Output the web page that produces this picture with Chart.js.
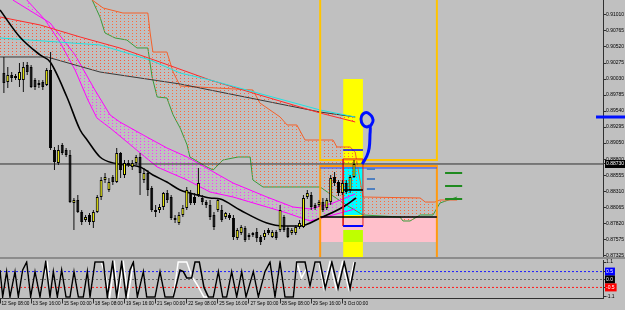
<!DOCTYPE html>
<html>
<head>
<meta charset="utf-8">
<script src="https://cdn.jsdelivr.net/npm/chart.js@4.4.0/dist/chart.umd.min.js"></script>
<style>
  html, body { margin: 0; padding: 0; background: #c0c0c0; }
  #wrap { position: relative; width: 625px; height: 310px; overflow: hidden; }
  #main { position: absolute; left: 0; top: 0; }
  #sep { position: absolute; left: 0; top: 257px; width: 625px; height: 2px; background: #8c8c8c; }
  #sub { position: absolute; left: 0; top: 258px; }
</style>
</head>
<body>
<div id="wrap">
  <canvas id="main" width="625" height="257"></canvas>
  <div id="sep"></div>
  <canvas id="sub" width="625" height="52"></canvas>
</div>
<script>
// H4 bars: x = bar number, y = price
const timeLabels = ['12 Sep 08:00', '13 Sep 16:00', '15 Sep 00:00', '18 Sep 08:00', '19 Sep 16:00', '21 Sep 00:00',
  '22 Sep 08:00', '25 Sep 16:00', '27 Sep 00:00', '28 Sep 08:00', '29 Sep 16:00', '3 Oct 00:00'];
const timeTickBars = [0, 8, 16, 24, 32, 40, 48, 56, 64, 72, 80, 88];

const priceTicks = [0.91255, 0.91010, 0.90765, 0.90520, 0.90275, 0.90030, 0.89785, 0.89540, 0.89295,
  0.89050, 0.88800, 0.88555, 0.88310, 0.88065, 0.87820, 0.87575, 0.87325];
const lastPrice = 0.88730;

// candles, bar 1 .. 91
const firstBar = 1;
const openP = [0.90122, 0.89984, 0.90092, 0.90046, 0.90015, 0.90015, 0.90245, 0.90214, 0.90015, 0.89969,
  0.89984, 0.89939, 0.90168, 0.88944, 0.88745, 0.89021, 0.88944, 0.88868, 0.88133, 0.88179,
  0.87995, 0.87873, 0.87950, 0.87842, 0.87995, 0.88225, 0.88485, 0.88332, 0.88531, 0.88454,
  0.88898, 0.88562, 0.88745, 0.88684, 0.88745, 0.88837, 0.88485, 0.88592, 0.88363, 0.87995,
  0.88026, 0.88072, 0.88286, 0.88225, 0.87904, 0.87827, 0.87950, 0.88057, 0.88286, 0.88225,
  0.88256, 0.88210, 0.88148, 0.88103, 0.87950, 0.88026, 0.88026, 0.87919, 0.87950, 0.87904,
  0.87598, 0.87674, 0.87751, 0.87613, 0.87674, 0.87689, 0.87613, 0.87613, 0.87720, 0.87613,
  0.87689, 0.87720, 0.87919, 0.87751, 0.87674, 0.87674, 0.87766, 0.87766, 0.88225, 0.88256,
  0.88103, 0.88103, 0.88148, 0.88057, 0.88148, 0.88531, 0.88454, 0.88286, 0.88439, 0.88332, 0.88531];
const highP = [0.90367, 0.90214, 0.90137, 0.90107, 0.90275, 0.90290, 0.90290, 0.90245, 0.90046, 0.90015,
  0.90015, 0.90199, 0.90443, 0.88990, 0.89021, 0.89051, 0.88975, 0.88944, 0.88210, 0.88256,
  0.88026, 0.87950, 0.87980, 0.88026, 0.88256, 0.88531, 0.88592, 0.88516, 0.88562, 0.88975,
  0.88913, 0.88791, 0.88791, 0.88791, 0.88868, 0.88898, 0.88669, 0.88638, 0.88393, 0.88103,
  0.88118, 0.88301, 0.88332, 0.88256, 0.87950, 0.87995, 0.88103, 0.88378, 0.88332, 0.88286,
  0.88669, 0.88256, 0.88179, 0.88179, 0.87995, 0.88210, 0.88103, 0.87995, 0.87980, 0.87950,
  0.87751, 0.87797, 0.87781, 0.87674, 0.87689, 0.87751, 0.87644, 0.87720, 0.87751, 0.87720,
  0.87720, 0.88103, 0.87950, 0.87781, 0.87751, 0.87797, 0.87873, 0.88256, 0.88332, 0.88301,
  0.88133, 0.88179, 0.88210, 0.88210, 0.88562, 0.88607, 0.88485, 0.88485, 0.88485, 0.88562, 0.88791];
const lowP = [0.89816, 0.89893, 0.89984, 0.90015, 0.89908, 0.89831, 0.90092, 0.89893, 0.89862, 0.89893,
  0.89862, 0.89923, 0.88944, 0.88638, 0.88715, 0.88868, 0.88837, 0.88133, 0.87720, 0.87980,
  0.87797, 0.87842, 0.87797, 0.87751, 0.87980, 0.88179, 0.88439, 0.88301, 0.88409, 0.88439,
  0.88516, 0.88516, 0.88684, 0.88638, 0.88715, 0.88256, 0.88439, 0.88240, 0.87995, 0.87919,
  0.87980, 0.88026, 0.88133, 0.87873, 0.87827, 0.87797, 0.87919, 0.88026, 0.88103, 0.88103,
  0.88225, 0.88103, 0.88057, 0.87873, 0.87720, 0.87995, 0.87842, 0.87888, 0.87873, 0.87567,
  0.87567, 0.87644, 0.87536, 0.87567, 0.87613, 0.87536, 0.87490, 0.87567, 0.87644, 0.87598,
  0.87567, 0.87689, 0.87689, 0.87598, 0.87644, 0.87644, 0.87735, 0.87751, 0.88194, 0.88026,
  0.88026, 0.88072, 0.87995, 0.88026, 0.88103, 0.88393, 0.88240, 0.88256, 0.88271, 0.88286, 0.88516];
const closeP = [0.89969, 0.90092, 0.90046, 0.90076, 0.90137, 0.90214, 0.90137, 0.89908, 0.89908, 0.89939,
  0.89908, 0.90168, 0.88975, 0.88760, 0.88944, 0.88898, 0.88868, 0.88148, 0.88179, 0.87995,
  0.87842, 0.87919, 0.87842, 0.87995, 0.88225, 0.88485, 0.88531, 0.88454, 0.88454, 0.88898,
  0.88638, 0.88745, 0.88715, 0.88745, 0.88837, 0.88592, 0.88592, 0.88332, 0.88026, 0.88026,
  0.88072, 0.88286, 0.88179, 0.87904, 0.87873, 0.87950, 0.88057, 0.88332, 0.88133, 0.88133,
  0.88439, 0.88148, 0.88103, 0.87919, 0.87766, 0.88179, 0.87873, 0.87980, 0.87904, 0.87613,
  0.87720, 0.87766, 0.87567, 0.87644, 0.87644, 0.87598, 0.87536, 0.87674, 0.87674, 0.87689,
  0.87598, 0.88026, 0.87720, 0.87613, 0.87720, 0.87766, 0.87827, 0.88210, 0.88286, 0.88072,
  0.88057, 0.88148, 0.88026, 0.88179, 0.88516, 0.88439, 0.88286, 0.88439, 0.88301, 0.88531, 0.88730];

// ichimoku-like lines
const redX = [0, 10.3, 20.6, 30.8, 41.1, 54, 65, 82.3, 91.3];
const redY = [0.90979, 0.90857, 0.90673, 0.90505, 0.90290, 0.90015, 0.89816, 0.89510, 0.89373];
const cyanX = [0, 25.7, 38.6, 46.3, 54, 82.3, 91.3];
const cyanY = [0.90658, 0.90551, 0.90321, 0.90122, 0.90015, 0.89556, 0.89449];
const darkX = [0, 12.1, 25.7, 46.3, 54, 82.3, 91.3];
const darkY = [0.90367, 0.90367, 0.90137, 0.89954, 0.89862, 0.89525, 0.89449];

const spanTopX = [23.7, 26.5, 31.6, 38, 38.6, 39.3, 42.9, 44.5, 46.3, 65, 66.8, 72, 73.8, 76.3, 78.4, 85.6,
  86.6, 90, 91.3, 93.3, 108, 109.3, 111.8, 113.1, 117.5];
const spanTopY = [0.91239, 0.91117, 0.91040, 0.91040, 0.90734, 0.90443, 0.90443, 0.90137, 0.89923, 0.89862,
  0.89663, 0.89449, 0.89327, 0.89327, 0.89097, 0.89097, 0.88990, 0.88990, 0.88913, 0.88225, 0.88210,
  0.88148, 0.88148, 0.88179, 0.88179];
const spanLowX = [23.7, 25.7, 27, 29.6, 32.6, 35.2, 38, 39.1, 40.4, 42.9, 44.5, 46.3, 48.1, 48.8, 53.2, 54.8,
  57.3, 61.2, 64.3, 65, 67.6, 82.3, 88.2, 93.3, 102.8, 103.6, 105.4, 108, 111.3, 113.1, 117.5];
const spanLowY = [0.91239, 0.90979, 0.90734, 0.90658, 0.90627, 0.90505, 0.90505, 0.90061, 0.89755, 0.89740,
  0.89480, 0.89281, 0.89021, 0.88837, 0.88684, 0.88638, 0.88791, 0.88837, 0.88837, 0.88485, 0.88378,
  0.88378, 0.88133, 0.87950, 0.87919, 0.87858, 0.87858, 0.87950, 0.87950, 0.88133, 0.88225];

const magUpX = [3.3, 12.9, 19.3, 24.4, 28.3, 30.8, 36.8, 42.9, 48.1, 54, 59.9, 68.6, 75.3, 79.7, 85.6, 91.3];
const magUpY = [0.91239, 0.90887, 0.90398, 0.89862, 0.89480, 0.89373, 0.89174, 0.88975, 0.88837, 0.88638,
  0.88439, 0.88225, 0.88072, 0.88042, 0.88133, 0.88271];
const magLowX = [6.9, 11.6, 15.4, 19.3, 22.6, 24.9, 28.3, 34.2, 40.4, 48.1, 54, 59.9, 68.6, 73.8, 79.7, 85.6, 91.3];
const magLowY = [0.91239, 0.90933, 0.90596, 0.90168, 0.89709, 0.89434, 0.89281, 0.88990, 0.88684, 0.88485,
  0.88301, 0.88225, 0.88072, 0.87980, 0.87858, 0.87950, 0.88042];

const maX = [0, 5.1, 10.3, 12.9, 17.2, 20.6, 22.4, 25.7, 29, 36, 39.3, 42.9, 46.3, 48.8, 54, 56.6, 61.7,
  68.6, 72.8, 77.1, 82.3, 88.2, 91.5];
const maY = [0.91086, 0.90673, 0.90398, 0.90290, 0.89755, 0.89250, 0.89097, 0.88837, 0.88745, 0.88684,
  0.88562, 0.88454, 0.88332, 0.88286, 0.88210, 0.88194, 0.88026, 0.87827, 0.87781, 0.87781, 0.87904,
  0.88072, 0.88210];

// drawn objects
const boxLeft = 82.3, boxRight = 112.3, bandLeft = 88.2, bandRight = 93.3;
const goldBoxBottom = 0.88791, orangeBoxTop = 0.88699, blueUnderTop = 0.88669;
const bandTop = 0.90030, cyanTop = 0.88684, cyanBottom = 0.87950;
const pinkTop = 0.87904, pinkBottom = 0.87536, limeTop = 0.87720;
const redBoxTop = 0.88807, redBoxBottom = 0.87781;
const blueShort = 0.88944, blackShort = 0.88332, blackWide = 0.87919;
const steelDashY = [0.88653, 0.88500, 0.88347];
const greenDashY = [0.88592, 0.88393, 0.88194];
const penX = [95.1, 95.9, 94.6, 93.3, 92.8, 93.3, 94.3, 95.1, 95.1, 94.9, 94.3, 93.1];
const penY = [0.89296, 0.89403, 0.89510, 0.89495, 0.89418, 0.89327, 0.89296, 0.89311, 0.89174, 0.88975, 0.88852, 0.88730];
const axisMarkY = 0.89449;

// oscillator window
const oscTicks = [1.1, 0.5, 0, -0.5, -1.1];
const oscTickText = ['1.1', '0.5', '0.0', '-0.5', '-1.1'];
const oscTickBox = [null, '#0000ff', '#000000', '#ff0000', null];
const blackOscX = [0, 0.69, 1.71, 2.57, 3.86, 4.71, 5.83, 6.86, 7.88, 9.0, 10.28, 11.74, 12.85, 13.71, 14.74,
  15.85, 16.97, 18.0, 19.02, 20.14, 21.42, 22.45, 23.14, 24.42, 26.56, 27.59, 28.96, 29.99, 31.28, 32.39,
  33.42, 34.28, 35.3, 36.85, 37.7, 39.85, 41.13, 42.42, 44.56, 46.27, 47.13, 47.99, 49.27, 50.13, 51.24,
  52.44, 53.56, 54.84, 56.13, 57.24, 58.27, 59.55, 60.84, 62.13, 63.24, 65.12, 66.41, 68.12, 69.41, 70.69,
  71.98, 73.26, 75.41, 76.26, 78.41, 79.69, 80.98, 82.26, 83.6, 85.3, 86.9, 88.5, 90.0, 91.3];
const blackOscY = [0.6, -1.1, 0.5, -1.1, 0.5, -1.1, 0.6, 1.1, -1.1, 0.5, -1.1, 1.1, -1.1, 0.5, -1.1, 0.6, -1.1,
  -1.1, 0.5, -1.1, -1.1, 0.5, -1.1, 1.1, 1.1, -1.1, 1.1, -1.1, 1.1, -1.1, 0.6, 1.1, -1.1, 0.5, -1.1, -1.1,
  0.5, -1.1, -1.1, 0.6, 0.5, 0.1, 0.1, 1.1, 1.1, -0.5, -1.1, -1.1, 0.5, -1.1, -1.1, 0.5, -1.1, 0.5, -1.1,
  0.5, -1.1, 0.5, 1.1, -1.1, 1.1, -1.1, -1.1, 1.1, 1.1, -0.4, 1.1, 1.1, -0.55, 1.1, -0.55, 1.1, -0.55, 1.1];
const whiteOscX = [0, 0.69, 1.71, 2.57, 3.86, 4.71, 5.83, 6.86, 7.88, 9.0, 10.28, 11.3, 12.2, 12.85, 13.71,
  14.74, 15.85, 16.97, 18.0, 19.02, 20.14, 21.42, 22.45, 23.14, 24.42, 26.0, 27.0, 28.2, 29.4, 30.3, 31.7,
  32.9, 34.28, 35.3, 36.85, 37.7, 39.85, 41.13, 42.42, 44.56, 45.8, 48.0, 49.3, 50.6, 52.4, 53.56, 54.84,
  56.13, 57.24, 58.27, 59.55, 60.84, 62.13, 63.24, 65.12, 66.41, 68.12, 69.41, 70.69, 71.98, 73.26, 75.41,
  76.3, 77.5, 78.8, 79.69, 80.98, 82.0, 83.3, 84.8, 86.4, 88.0, 89.6, 91.0];
const whiteOscY = [0.6, -1.1, 0.5, -1.1, 0.5, -1.1, 0.6, 1.1, -1.1, 0.5, -1.1, 0.2, 1.0, -1.1, 0.5, -1.1, 0.6,
  -1.1, -1.1, 0.5, -1.1, -1.1, 0.5, -1.1, 1.1, 1.1, 0.4, -1.1, 1.1, -1.1, 1.1, -1.1, 1.1, -1.1, 0.5, -1.1,
  -1.1, 0.5, -1.1, -1.1, 1.1, 1.1, 0.2, -0.3, -1.1, -1.1, -1.1, 0.5, -1.1, -1.1, 0.5, -1.1, 0.5, -1.1, 0.5,
  -1.1, 0.5, 1.1, -1.1, 1.1, -1.1, -1.1, 1.1, 0.1, 0.7, -0.4, 1.1, 1.1, -0.55, 1.1, -0.55, 1.1, -0.55, 1.1];

const lastBar = 155;

Chart.defaults.font.family = "'Liberation Sans', Arial, sans-serif";
Chart.defaults.font.size = 5;
Chart.defaults.color = '#000';

// dotted hatch like the terminal draws inside the clouds
function hatch(color) {
  const c = document.createElement('canvas');
  c.width = 4; c.height = 3;
  const g = c.getContext('2d');
  g.fillStyle = color;
  g.fillRect(0, 0, 1, 1);
  return g.createPattern(c, 'repeat');
}

function line(xs, ys, color, width, order, extra) {
  return Object.assign({
    type: 'line',
    data: xs.map((x, i) => ({ x: x, y: ys[i] })),
    borderColor: color,
    borderWidth: width,
    pointRadius: 0,
    fill: false,
    tension: 0,
    order: order
  }, extra || {});
}

function rect(x1, x2, top, bottom, color, order) {
  return line([x1, x2], [top, top], 'rgba(0,0,0,0)', 0, order, { fill: { value: bottom }, backgroundColor: color });
}

const datasets = [];

// background objects
datasets.push(rect(bandLeft, bandRight, bandTop, 0.8725, '#ffff00', 60));
datasets.push(rect(bandLeft, bandRight, cyanTop, cyanBottom, '#00ffff', 59));
datasets.push(rect(boxLeft, boxRight, pinkTop, pinkBottom, '#ffc0cb', 58));
datasets.push(rect(bandLeft, bandRight, limeTop, pinkBottom, '#bfff00', 57));

// clouds (top line fills to the next dataset)
datasets.push(line(spanTopX, spanTopY, '#f4602a', 1, 40, { fill: '+1', backgroundColor: hatch('#ff6a3a') }));
datasets.push(line(spanLowX, spanLowY, '#3a9a3a', 1, 40));
datasets.push(line(magUpX, magUpY, '#ff00ff', 1, 39, { fill: '+1', backgroundColor: hatch('#ff33ff') }));
datasets.push(line(magLowX, magLowY, '#ff00ff', 1, 39));
datasets.push(line(redX, redY, '#ff2a2a', 1, 38, { fill: '+1', backgroundColor: hatch('#ff5a3a') }));
datasets.push(line(darkX, darkY, '#383838', 1, 38));
datasets.push(line(cyanX, cyanY, '#22e0e0', 1, 37));

// moving average
datasets.push(line(maX, maY, '#000000', 1.6, 30, { cubicInterpolationMode: 'monotone' }));

// box outlines and marks
datasets.push(line([boxLeft, boxLeft, boxRight, boxRight], [0.9135, goldBoxBottom, goldBoxBottom, 0.9135], '#ffc400', 2, 20));
datasets.push(line([boxLeft, boxLeft, boxRight, boxRight], [0.8725, orangeBoxTop, orangeBoxTop, 0.8725], '#ff9a10', 2, 20));
datasets.push(line([boxLeft, boxRight], [blueUnderTop, blueUnderTop], '#2040ff', 1, 19));
datasets.push(line([bandLeft, bandLeft, bandRight, bandRight, bandLeft], [redBoxTop, redBoxBottom, redBoxBottom, redBoxTop, redBoxTop], '#e02020', 1, 18));
datasets.push(line([bandLeft, bandRight], [blueShort, blueShort], '#0000ff', 1.5, 17));
datasets.push(line([bandLeft, bandRight], [redBoxBottom, redBoxBottom], '#0000ff', 2, 17));
datasets.push(line([bandLeft, bandRight], [blackShort, blackShort], '#000000', 1.5, 17));
datasets.push(line([boxLeft, boxRight], [blackWide, blackWide], '#000000', 1.5, 17));
steelDashY.forEach(v => datasets.push(line([94.3, 96.4], [v, v], '#4f7fbf', 2, 16)));
greenDashY.forEach(v => datasets.push(line([114.4, 118.8], [v, v], '#1f8a1f', 2, 16)));
datasets.push(line([0, lastBar], [lastPrice, lastPrice], '#303030', 1, 15));

// candles
const bars = openP.map((o, i) => i + firstBar);
const bull = openP.map((o, i) => closeP[i] >= o);
datasets.push({
  type: 'bar', order: 11, grouped: false, barThickness: 1, inflateAmount: 0,
  data: bars.map((b, i) => ({ x: b, y: [lowP[i], highP[i]] })),
  backgroundColor: '#101010', borderWidth: 0
});
datasets.push({
  type: 'bar', order: 10, grouped: false, barThickness: 3, inflateAmount: 0, minBarLength: 1,
  data: bars.map((b, i) => ({ x: b, y: [openP[i], closeP[i]] })),
  backgroundColor: bull.map(u => u ? '#ffff00' : '#000000'),
  borderColor: '#000000', borderWidth: 1, borderSkipped: false
});

// hand drawn pen mark and the axis marker
datasets.push(line(penX, penY, '#0010ff', 3, 2, { tension: 0.4 }));
datasets.push(line([153.2, 161], [axisMarkY, axisMarkY], '#0010ff', 3, 1, { clip: { left: 0, top: 0, right: 25, bottom: 0 } }));

const mainTicks = priceTicks.concat([lastPrice]);
const mainTickText = priceTicks.map(v => v.toFixed(5)).concat([lastPrice.toFixed(5)]);
const lastIdx = mainTicks.length - 1;

new Chart(document.getElementById('main'), {
  type: 'line',
  data: { datasets: datasets },
  options: {
    responsive: false,
    animation: false,
    events: [],
    layout: { padding: 0, autoPadding: false },
    plugins: { legend: { display: false }, tooltip: { enabled: false } },
    scales: {
      x: { type: 'linear', min: 0, max: lastBar, display: false, offset: false },
      y: {
        type: 'linear', position: 'right', min: 0.87307, max: 0.91239,
        afterBuildTicks: s => { s.ticks = mainTicks.map(v => ({ value: v })); },
        afterFit: s => { s.width = 22; s.paddingTop = 0; s.paddingBottom = 0; },
        ticks: {
          autoSkip: false, padding: 0,
          callback: (v, i) => mainTickText[i],
          color: c => c.index === lastIdx ? '#ffffff' : '#000000',
          showLabelBackdrop: c => c.index === lastIdx,
          backdropColor: '#000000',
          backdropPadding: { top: 1, bottom: 1, left: 1, right: 3 }
        },
        grid: { drawOnChartArea: false, color: '#303030', tickLength: 3 },
        border: { color: '#303030', width: 1 }
      }
    }
  }
});

// oscillator window
const subSets = [
  line(blackOscX, blackOscY, '#000000', 1.5, 1),
  line(whiteOscX, whiteOscY, '#ffffff', 1.5, 2),
  line([0, lastBar], [0.5, 0.5], '#1a1aff', 1, 3, { borderDash: [2, 2] }),
  line([0, lastBar], [0, 0], '#6a6a6a', 1, 3, { borderDash: [2, 2] }),
  line([0, lastBar], [-0.5, -0.5], '#ff1a1a', 1, 3, { borderDash: [2, 2] })
];

new Chart(document.getElementById('sub'), {
  type: 'line',
  data: { datasets: subSets },
  options: {
    responsive: false,
    animation: false,
    events: [],
    layout: { padding: { top: 2.5, left: 0, right: 0, bottom: 0 }, autoPadding: false },
    plugins: { legend: { display: false }, tooltip: { enabled: false } },
    scales: {
      x: {
        type: 'linear', min: 0, max: lastBar, offset: false,
        afterBuildTicks: s => { s.ticks = timeTickBars.map(v => ({ value: v })); },
        afterFit: s => { s.height = 11.5; s.paddingLeft = 0; s.paddingRight = 0; },
        ticks: {
          autoSkip: false, maxRotation: 0, minRotation: 0, align: 'start',
          padding: -3, labelOffset: 1.5,
          font: { size: 4.7 },
          callback: (v, i) => timeLabels[i]
        },
        grid: { drawOnChartArea: false, color: '#303030', tickLength: 5 },
        border: { color: '#303030', width: 1 }
      },
      y: {
        type: 'linear', position: 'right', min: -1.2, max: 1.2,
        afterBuildTicks: s => { s.ticks = oscTicks.map(v => ({ value: v })); },
        afterFit: s => { s.width = 22; s.paddingTop = 0; s.paddingBottom = 0; },
        ticks: {
          autoSkip: false, padding: 0,
          callback: (v, i) => oscTickText[i],
          color: c => oscTickBox[c.index] ? '#ffffff' : '#000000',
          showLabelBackdrop: c => !!oscTickBox[c.index],
          backdropColor: c => oscTickBox[c.index] || 'rgba(0,0,0,0)',
          backdropPadding: { top: 1, bottom: 1, left: 1, right: 2 }
        },
        grid: { drawOnChartArea: false, color: '#303030', tickLength: 3 },
        border: { color: '#303030', width: 1 }
      }
    }
  }
});
</script>
</body>
</html>
